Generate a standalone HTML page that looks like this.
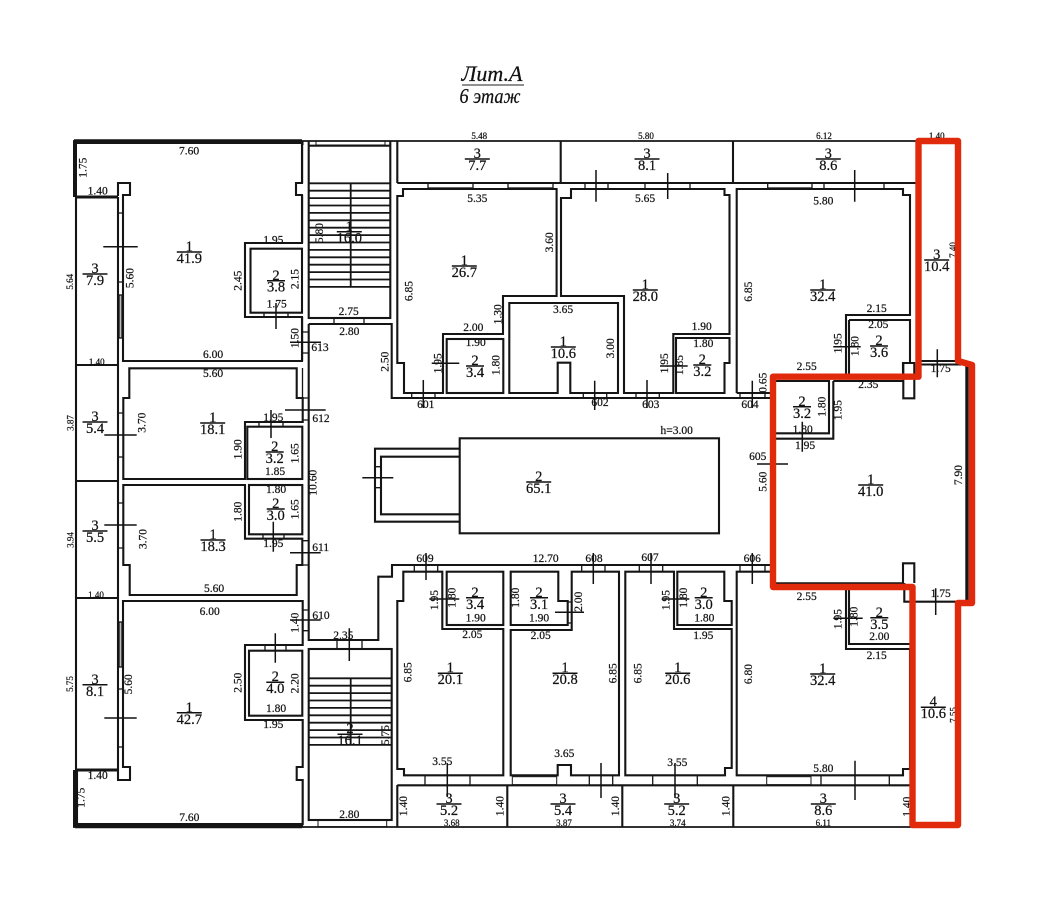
<!DOCTYPE html>
<html><head><meta charset="utf-8"><style>
html,body{margin:0;padding:0;background:#fff}
svg{display:block}
text{font-family:"Liberation Serif","Noto Serif CJK SC",serif;fill:#111;text-anchor:middle;stroke:#111;stroke-width:.22px}
.d text{font-size:11.5px;dominant-baseline:central}
.s text{font-size:9px;dominant-baseline:central}
.f text{font-size:14.5px}
.w{fill:none;stroke:#151515;stroke-width:2.1}
.t{fill:none;stroke:#151515;stroke-width:1.3}
.m{fill:none;stroke:#111;stroke-width:1.3}
</style></head><body>
<svg width="1052" height="916" viewBox="0 0 1052 916" xmlns="http://www.w3.org/2000/svg">
<rect width="1052" height="916" fill="#fff"/>

<text x="492" y="81" style="font-size:22px;font-style:italic">Лит.А</text>
<line x1="462" y1="85" x2="524" y2="85" stroke="#222" stroke-width="1"/>
<text x="490" y="103" textLength="61" lengthAdjust="spacingAndGlyphs" style="font-size:21px;font-style:italic">6 этаж</text>

<g class="w">
<path d="M73 141H916M73 827H916" stroke-width="1.8"/>
<path d="M74 141H302M75 826.5H302" stroke-width="3.6"/>
<path d="M75 141V197M75 770V827" stroke-width="4"/>
<path d="M75 197H118M75 770H118" stroke-width="3"/>
<path d="M76 197V770M76 365H118M76 481H118M76 598H118"/>
<path d="M118 197V770"/>
<path d="M77 143H302V183H296V195H302V243H245V317H302V361H123V195H130V183H118V196"/>
<rect x="250.5" y="248.7" width="51.5" height="64"/>
<rect x="308.7" y="145.7" width="81.6" height="172.3"/>
<path d="M308.7 145V141M390.3 145V141"/>
<rect x="316" y="141" width="69" height="4" stroke-width="1"/>
<path d="M308.7 324H391.7V398H770M308.7 324V640H378.3V576.7H392V565H772M302.5 141V145"/>
<path d="M397.3 141V183M560.7 141V183M733 141V183M397.3 183H916"/>
<path d="M403 189H556.6V296H503V334H443V393H404V363H397.3V196H403Z"/>
<rect x="446.7" y="339" width="56.6" height="54"/>
<path d="M509.3 303H618V393H570.3V362.7H557.7V393H509.3Z"/>
<path d="M561 198H571V189H724.5V195H729.5V334H673.3V393H624V296H561Z"/>
<path d="M676 338H729.5V363H724.5V393H676Z"/>
<path d="M736.7 393V189H903V195H910V315H846V376M736.7 393H772"/>
<path d="M849 320H910V363H903V376M849 320V376"/>
<path d="M129.3 368.3H296.7V398H302.7V422H245V479H123.3V398H129.3Z"/>
<rect x="247.3" y="426.7" width="55" height="52.3"/>
<path d="M123.3 485H245V538.7H302.3V565H296.7V595H129.7V565H123.3Z"/>
<rect x="249" y="485" width="53.3" height="49.3"/>
<path d="M123 601H302.7V645H245V720H302.7V767H296.7V780H302.7V824H77V770H118V780H130V767H123Z"/>
<rect x="249" y="650.7" width="53.3" height="65"/>
<rect x="308.7" y="649" width="83" height="171"/>
<rect x="318" y="820" width="68.7" height="6.7" stroke-width="1"/>
<rect x="459.7" y="438.3" width="259.3" height="95"/>
<path d="M459.7 448.7H375V521.7H459.7M459.7 456.7H381V514.3H459.7"/>
<path d="M403.3 571.7H442.3V629H503.3V775.3H404V769H397.3V601H403.3Z"/>
<rect x="446.7" y="571.7" width="56.6" height="53.3"/>
<path d="M510.7 571.7H558.3V601H567.7V625H510.7Z"/>
<path d="M510.7 630H571.7V571.7H619V775.3H571V765H557.7V775.3H510.7Z"/>
<path d="M625.3 571.7H674V629H731.7V768H725V775.3H625.3Z"/>
<path d="M677.3 571.7H724.3V601H731.7V625H677.3Z"/>
<path d="M772 571.7H736.7V775.3H903V769H910V649H846V587M849 587V644H910"/>
<path d="M397.3 785.3H910M397.3 785V827M507.3 785V827M622.3 785V827M733.3 785V827"/>
<rect x="512.3" y="776.7" width="44.4" height="8" stroke-width="1"/>
<rect x="766.7" y="776.7" width="44.3" height="8" stroke-width="1"/>
<path d="M776 381H829V433.3H776M833.3 381V438.7H776M833.3 381H903.3V398.3H914.3V376M903.3 381V363H914.3V376"/>
<path d="M776 583.3H903V563.3H914.3V583M904.3 583V601.7H967M921 361H958M921 364.5H967"/>
<path d="M967 365V600" stroke-width="3.4"/>
</g>

<g class="t">
<rect x="428" y="183" width="45" height="5"/><rect x="508" y="183" width="45" height="5"/>
<rect x="767.7" y="183" width="44.3" height="5"/>
<path d="M585 183V189M608 183V189M645 183V189M690 183V189M824 183V189M884 183V189"/>
<path d="M411.7 393V398M435 393V398M583.3 393V398M606.7 393V398M636 393V398M659.3 393V398M740 393V398M765 393V398"/>
<path d="M414.3 565V571.7M437.7 565V571.7M581.7 565V571.7M605 565V571.7M639.3 565V571.7M662.7 565V571.7M740 565V571.7M765 565V571.7"/>
<path d="M425 775V785M470 775V785M589.3 775V785M612.7 775V785M652.7 775V785M697.3 775V785M821 775V785M889.3 775V785"/>
<path d="M118 213H123M118 282H123M118 413H123M118 457H123M118 503H123M118 548H123M118 689H123M118 747H123"/>
<path d="M302 332H308.7M302 353H308.7M302 398H308.7M302 420H308.7M302 540.7H308.7M302 565H308.7M302 610H308.7M302 630.7H308.7"/>
<path d="M302.5 141V183M302.5 195V243M302.5 317V361M302.5 368V398M302.5 780V827"/>
<path d="M265 645V650.7M286 645V650.7M264 312.7V317M288 312.7V317M259 422V426.7M283 422V426.7M263 534.3V538.7M284 534.3V538.7"/>
<path d="M337 640V649M362 640V649M375 466.7H381M375 487.7H381M567.7 602H571.7M567.7 623H571.7"/>
<rect x="334" y="318" width="30" height="6"/>
<rect x="119" y="295" width="3" height="43" fill="#bbb"/><rect x="119" y="622" width="3" height="45" fill="#bbb"/>
</g>

<g class="t" style="stroke-width:1.8">
<path d="M309 183.3H390M309 190.7H390M309 198.1H390M309 205.5H390M309 212.9H390M309 220.3H390M309 227.7H390M309 235.1H390M309 242.5H390M309 249.9H390M309 257.3H390M309 264.7H390M309 272.1H390M309 279.5H390M309 286.9H390M350.7 183V287"/>
<path d="M309 678.3H391M309 685.7H391M309 693.1H391M309 700.5H391M309 707.9H391M309 715.3H391M309 722.7H391M309 730.1H391M309 737.5H391M309 744.9H391M350.7 678V745"/>
</g>

<g class="d">
<text x="189" y="151.5">7.60</text><text x="97.7" y="191.5">1.40</text><text x="273.3" y="240.5">1.95</text><text x="276.7" y="304.5">1.75</text>
<text x="348.7" y="312">2.75</text><text x="349.3" y="332">2.80</text><text x="213" y="355">6.00</text><text x="213" y="374">5.60</text>
<text x="320" y="348">613</text>
<text x="477.3" y="199">5.35</text><text x="645" y="199">5.65</text><text x="563" y="310">3.65</text><text x="473.3" y="328">2.00</text><text x="475.7" y="343">1.90</text>
<text x="701.7" y="327">1.90</text><text x="703.3" y="344">1.80</text><text x="425.7" y="405">601</text><text x="600" y="403">602</text><text x="650.7" y="405">603</text>
<text x="823.3" y="201.5">5.80</text><text x="876.7" y="309">2.15</text><text x="878.3" y="325">2.05</text><text x="806.7" y="367">2.55</text><text x="750" y="405">604</text><text x="940.7" y="369">1.75</text><text x="868.3" y="385">2.35</text>
<text x="802.7" y="430">1.80</text><text x="805" y="446">1.95</text><text x="757.7" y="457">605</text><text x="676.7" y="431">h=3.00</text>
<text x="273.3" y="418">1.95</text><text x="321" y="419">612</text><text x="275" y="472">1.85</text><text x="276" y="490">1.80</text><text x="273.3" y="544">1.95</text><text x="320.7" y="548">611</text><text x="214" y="589">5.60</text><text x="209.7" y="612">6.00</text>
<text x="321" y="616">610</text><text x="343.3" y="636">2.35</text><text x="276" y="709">1.80</text><text x="273.3" y="725">1.95</text><text x="97.7" y="776">1.40</text><text x="189.3" y="818">7.60</text><text x="349.3" y="815">2.80</text>
<text x="425" y="559">609</text><text x="545.7" y="559">12.70</text><text x="594" y="559">608</text><text x="650" y="558">607</text><text x="752.3" y="559">606</text>
<text x="475.7" y="618.5">1.90</text><text x="472.3" y="635">2.05</text><text x="539" y="618.5">1.90</text><text x="540.7" y="636">2.05</text><text x="704.3" y="618.5">1.80</text><text x="703.3" y="636">1.95</text>
<text x="442.3" y="762">3.55</text><text x="564.3" y="754">3.65</text><text x="677.3" y="763">3.55</text>
<text x="806.7" y="597">2.55</text><text x="879.3" y="637">2.00</text><text x="876.7" y="656">2.15</text><text x="940.7" y="594">1.75</text><text x="823.3" y="769">5.80</text>

<text transform="rotate(-90 83.3 167.7)" x="83.3" y="167.7">1.75</text>
<text transform="rotate(-90 130.7 278)" x="130.7" y="278">5.60</text>
<text transform="rotate(-90 238.3 280.7)" x="238.3" y="280.7">2.45</text>
<text transform="rotate(-90 295.7 279)" x="295.7" y="279">2.15</text>
<text transform="rotate(-90 295.7 338)" x="295.7" y="338">1.50</text>
<text transform="rotate(-90 320 233)" x="320" y="233">5.80</text>
<text transform="rotate(-90 385.3 361.7)" x="385.3" y="361.7">2.50</text>
<text transform="rotate(-90 409.3 291)" x="409.3" y="291">6.85</text>
<text transform="rotate(-90 550 242.3)" x="550" y="242.3">3.60</text>
<text transform="rotate(-90 498.3 314.3)" x="498.3" y="314.3">1.30</text>
<text transform="rotate(-90 438.3 363.3)" x="438.3" y="363.3">1.95</text>
<text transform="rotate(-90 496.7 365)" x="496.7" y="365">1.80</text>
<text transform="rotate(-90 611 348.3)" x="611" y="348.3">3.00</text>
<text transform="rotate(-90 665 363.3)" x="665" y="363.3">1.95</text>
<text transform="rotate(-90 680 365)" x="680" y="365">1.85</text>
<text transform="rotate(-90 749 291.7)" x="749" y="291.7">6.85</text>
<text transform="rotate(-90 838.3 343.3)" x="838.3" y="343.3">1.95</text>
<text transform="rotate(-90 855.7 346)" x="855.7" y="346">1.80</text>
<text transform="rotate(-90 763.3 382.7)" x="763.3" y="382.7">0.65</text>
<text transform="rotate(-90 822.3 406.7)" x="822.3" y="406.7">1.80</text>
<text transform="rotate(-90 838.3 410)" x="838.3" y="410">1.95</text>
<text transform="rotate(-90 959 475)" x="959" y="475">7.90</text>
<text transform="rotate(-90 763.3 481.7)" x="763.3" y="481.7">5.60</text>
<text transform="rotate(-90 142.7 422.7)" x="142.7" y="422.7">3.70</text>
<text transform="rotate(-90 238.3 449.3)" x="238.3" y="449.3">1.90</text>
<text transform="rotate(-90 295.7 453.3)" x="295.7" y="453.3">1.65</text>
<text transform="rotate(-90 313.3 482.7)" x="313.3" y="482.7">10.60</text>
<text transform="rotate(-90 238.3 511.7)" x="238.3" y="511.7">1.80</text>
<text transform="rotate(-90 295.7 509.3)" x="295.7" y="509.3">1.65</text>
<text transform="rotate(-90 143.3 539)" x="143.3" y="539">3.70</text>
<text transform="rotate(-90 295.7 622.7)" x="295.7" y="622.7">1.40</text>
<text transform="rotate(-90 238.3 682.7)" x="238.3" y="682.7">2.50</text>
<text transform="rotate(-90 295.7 683.3)" x="295.7" y="683.3">2.20</text>
<text transform="rotate(-90 129 684.3)" x="129" y="684.3">5.60</text>
<text transform="rotate(-90 386 735)" x="386" y="735">5.75</text>
<text transform="rotate(-90 81.7 797.7)" x="81.7" y="797.7">1.75</text>
<text transform="rotate(-90 435 600)" x="435" y="600">1.95</text>
<text transform="rotate(-90 452.3 597.7)" x="452.3" y="597.7">1.80</text>
<text transform="rotate(-90 516 597.7)" x="516" y="597.7">1.80</text>
<text transform="rotate(-90 579 601.7)" x="579" y="601.7">2.00</text>
<text transform="rotate(-90 666.7 600)" x="666.7" y="600">1.95</text>
<text transform="rotate(-90 684 597.7)" x="684" y="597.7">1.80</text>
<text transform="rotate(-90 408.3 672.3)" x="408.3" y="672.3">6.85</text>
<text transform="rotate(-90 613.3 673.3)" x="613.3" y="673.3">6.85</text>
<text transform="rotate(-90 638.3 673.3)" x="638.3" y="673.3">6.85</text>
<text transform="rotate(-90 404 806)" x="404" y="806">1.40</text>
<text transform="rotate(-90 500.7 806)" x="500.7" y="806">1.40</text>
<text transform="rotate(-90 616 806)" x="616" y="806">1.40</text>
<text transform="rotate(-90 726.7 806)" x="726.7" y="806">1.40</text>
<text transform="rotate(-90 907.7 806.7)" x="907.7" y="806.7">1.40</text>
<text transform="rotate(-90 838.3 619)" x="838.3" y="619">1.95</text>
<text transform="rotate(-90 854.3 616.7)" x="854.3" y="616.7">1.80</text>
<text transform="rotate(-90 749 674)" x="749" y="674">6.80</text>
</g>

<g class="s">
<text x="479.3" y="136">5.48</text><text x="646" y="136">5.80</text><text x="824" y="136">6.12</text><text x="936.7" y="136">1.40</text>
<text x="96.7" y="362">1.40</text><text x="96" y="595">1.40</text>
<text x="451.7" y="823">3.68</text><text x="564" y="823">3.87</text><text x="677.7" y="823">3.74</text><text x="823.3" y="823">6.11</text>
<text transform="rotate(-90 70 281.7)" x="70" y="281.7">5.64</text>
<text transform="rotate(-90 70.7 423)" x="70.7" y="423">3.87</text>
<text transform="rotate(-90 70.7 540)" x="70.7" y="540">3.94</text>
<text transform="rotate(-90 70 684)" x="70" y="684">5.75</text>
<text transform="rotate(-90 953.3 715)" x="953.3" y="715">7.55</text>
<text transform="rotate(-90 953 250)" x="953" y="250">7.40</text>
</g>

<g class="f">
<text x="189.3" y="251">1</text><text x="189.3" y="263">41.9</text>
<text x="95" y="273">3</text><text x="95" y="285">7.9</text>
<text x="276" y="280">2</text><text x="276" y="291.5">3.8</text>
<text x="349.3" y="231">1</text><text x="349.3" y="242.5">16.0</text>
<text x="464.3" y="265">1</text><text x="464.3" y="277">26.7</text>
<text x="645.3" y="289">1</text><text x="645.3" y="301">28.0</text>
<text x="563.3" y="346">1</text><text x="563.3" y="358">10.6</text>
<text x="475" y="365">2</text><text x="475" y="377">3.4</text>
<text x="702.3" y="364">2</text><text x="702.3" y="376">3.2</text>
<text x="477.3" y="158">3</text><text x="477.3" y="170">7.7</text>
<text x="647" y="158">3</text><text x="647" y="170">8.1</text>
<text x="828.3" y="158">3</text><text x="828.3" y="170">8.6</text>
<text x="822.7" y="289">1</text><text x="822.7" y="301">32.4</text>
<text x="879" y="345">2</text><text x="879" y="357">3.6</text>
<text x="936.7" y="259">3</text><text x="936.7" y="271">10.4</text>
<text x="95" y="421">3</text><text x="95" y="433">5.4</text>
<text x="212.7" y="422">1</text><text x="212.7" y="434">18.1</text>
<text x="274.7" y="451">2</text><text x="274.7" y="463">3.2</text>
<text x="275.7" y="508">2</text><text x="275.7" y="520">3.0</text>
<text x="95" y="530">3</text><text x="95" y="542">5.5</text>
<text x="213" y="539">1</text><text x="213" y="551">18.3</text>
<text x="95" y="684">3</text><text x="95" y="696">8.1</text>
<text x="189.3" y="712">1</text><text x="189.3" y="724">42.7</text>
<text x="275.3" y="681">2</text><text x="275.3" y="693">4.0</text>
<text x="350" y="733">2</text><text x="350" y="745">16.1</text>
<text x="475" y="597">2</text><text x="475" y="609">3.4</text>
<text x="539" y="597">2</text><text x="539" y="609">3.1</text>
<text x="703.7" y="597">2</text><text x="703.7" y="609">3.0</text>
<text x="450.3" y="672">1</text><text x="450.3" y="684">20.1</text>
<text x="565" y="672">1</text><text x="565" y="684">20.8</text>
<text x="677.7" y="672">1</text><text x="677.7" y="684">20.6</text>
<text x="449" y="803">3</text><text x="449" y="815">5.2</text>
<text x="563" y="803">3</text><text x="563" y="815">5.4</text>
<text x="676.7" y="803">3</text><text x="676.7" y="815">5.2</text>
<text x="879.3" y="617">2</text><text x="879.3" y="629">3.5</text>
<text x="822.7" y="673">1</text><text x="822.7" y="685">32.4</text>
<text x="933.3" y="706">4</text><text x="933.3" y="718">10.6</text>
<text x="823.3" y="803">3</text><text x="823.3" y="815">8.6</text>
<text x="538.7" y="481">2</text><text x="538.7" y="493">65.1</text>
<text x="802" y="406">2</text><text x="802" y="418">3.2</text>
<text x="870.7" y="484">1</text><text x="870.7" y="496">41.0</text>
</g>

<g class="m" style="stroke-width:1.5">
<path d="M176.8 252H201.8M82.5 274H107.5M267 280.7H285M336.8 231.7H361.8M451.8 266H476.8M632.8 290H657.8M550.8 347H575.8M466 366H484M693.3 365H711.3M464.8 159H489.8M634.5 159H659.5M815.8 159H840.8M810.2 290H835.2M870 346H888M924.2 260H949.2"/>
<path d="M82.5 422H107.5M200.2 423H225.2M265.7 452H283.7M266.7 509H284.7M82.5 531H107.5M200.5 540H225.5M82.5 684.7H107.5M176.8 712.7H201.8M266.3 682.3H284.3M337.5 734.3H362.5"/>
<path d="M466 597.7H484M530 597.7H548M694.7 597.7H712.7M437.8 673.3H462.8M552.5 673.3H577.5M665.2 673.3H690.2M436.5 804H461.5M550.5 804H575.5M664.2 804H689.2M870.3 617.7H888.3M810.2 674H835.2M920.8 707.3H945.8M810.8 804H835.8M526.2 482H551.2M793 406.7H811M858.2 485H883.2"/>
<path d="M103.3 246.7H137.7M276 303V329M290 342.3H321M596 170V201.7M667.7 173V199M431.7 363.3H459.3M423.3 380V408M594.7 380.7V410M647 380V408M660 366H687.7M854.7 170V201.7M833.3 346.7H860.7M752.3 380.7V408M937.3 349.3V377.3"/>
<path d="M285 410H325.7M271 410V438M104.3 435H136.7M104.3 525H136.7M273.3 521.7V551.7M290 552.7H320.7M290 620H320.7M275.3 633.3V662.7M349.3 628.3V661M104.3 718H136.7"/>
<path d="M362.3 477.7H393.3M426 553V580M593.3 553V584M651 553V584M752.3 553V584M429.3 599H459.3M555 612.3H584M661.7 599H689.3M447.3 763V797M601 763V798M675 763V798"/>
<path d="M833.3 618.3H862.7M855 760.7V800M935.7 588.3V615M802.3 421.7V451.7M757 464H788"/>
</g>

<path d="M918.5 141H958M918.5 141V376.7H773V587H912.5V825H958V603H972V365L958 361V141" fill="none" stroke="#e02a0b" stroke-width="6.4" stroke-linejoin="round" stroke-linecap="round"/>
</svg>
</body></html>
